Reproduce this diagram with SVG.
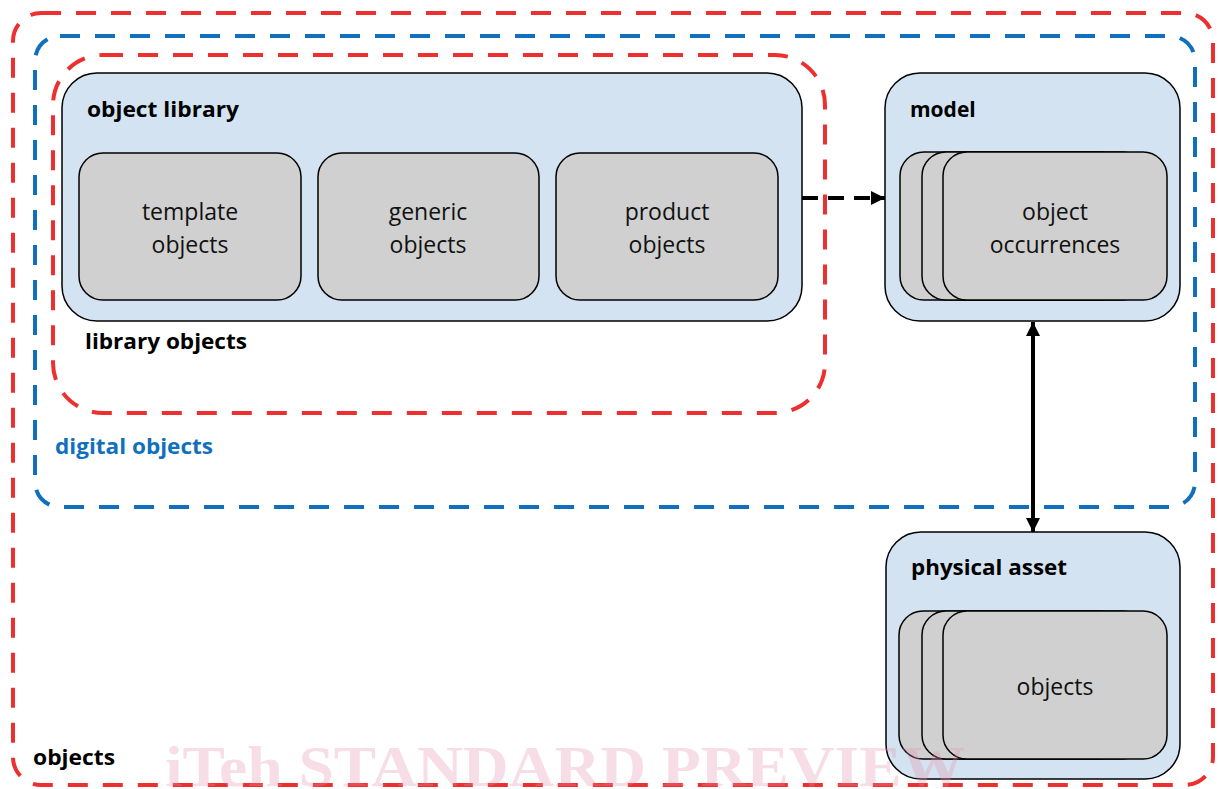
<svg xmlns="http://www.w3.org/2000/svg" width="1219" height="789" viewBox="0 0 1219 789">
<defs>
<marker id="tri2" viewBox="0 0 14 14" refX="14" refY="7" markerWidth="14" markerHeight="14" markerUnits="userSpaceOnUse" orient="auto-start-reverse"><path d="M0,0 L14,7 L0,14 z" fill="#000"/></marker>
</defs>
<style>
.red{fill:none;stroke:#ee2f2f;stroke-width:4;stroke-dasharray:20 15}
.blue{fill:none;stroke:#1170bd;stroke-width:4;stroke-dasharray:20 15}
.cont{fill:#d3e3f1;stroke:#000;stroke-width:1.5}
.item{fill:#d0d0d0;stroke:#000;stroke-width:1.5}
.t{font-family:"Open Sans","Liberation Sans",sans-serif;font-size:23px;fill:#111}
.b{font-family:"Open Sans","Liberation Sans",sans-serif;font-size:21px;font-weight:bold;fill:#000}
.c{text-anchor:middle}
.wm{font-family:"Liberation Serif",serif;font-size:58px;font-weight:bold;fill:#e690a8;fill-opacity:0.3}
</style>
<g id="objects-boundary">
<rect class="red" x="13" y="13" width="1200" height="772" rx="28"/>
<text class="b" x="33" y="765" textLength="82" lengthAdjust="spacingAndGlyphs">objects</text>
</g>
<g id="digital-objects">
<rect class="blue" x="35" y="36" width="1160" height="471" rx="25"/>
<text class="b" x="55" y="454" style="fill:#1170bd" textLength="158" lengthAdjust="spacingAndGlyphs">digital objects</text>
</g>
<g id="library-objects">
<rect class="red" x="53" y="55" width="772" height="358" rx="50"/>
<text class="b" x="85" y="349" textLength="162" lengthAdjust="spacingAndGlyphs">library objects</text>
</g>
<g id="object-library">
<rect class="cont" x="62" y="73" width="740" height="248" rx="35"/>
<text class="b" x="87" y="117" textLength="152" lengthAdjust="spacingAndGlyphs">object library</text>
</g>
<g id="template-objects">
<rect class="item" x="79" y="153" width="222" height="147" rx="24"/>
<text class="t c" x="190" y="220">template</text>
<text class="t c" x="190" y="253">objects</text>
</g>
<g id="generic-objects">
<rect class="item" x="318" y="153" width="221" height="147" rx="24"/>
<text class="t c" x="428" y="220">generic</text>
<text class="t c" x="428" y="253">objects</text>
</g>
<g id="product-objects">
<rect class="item" x="556" y="153" width="222" height="147" rx="24"/>
<text class="t c" x="667" y="220">product</text>
<text class="t c" x="667" y="253">objects</text>
</g>
<g id="model">
<rect class="cont" x="885" y="73" width="295" height="248" rx="35"/>
<text class="b" x="910" y="117">model</text>
<rect class="item" x="900" y="152" width="224" height="148" rx="24"/>
<rect class="item" x="922" y="152" width="224" height="148" rx="24"/>
<rect class="item" x="943" y="152" width="224" height="148" rx="24"/>
<text class="t c" x="1055" y="220">object</text>
<text class="t c" x="1055" y="253">occurrences</text>
</g>
<g id="physical-asset">
<rect class="cont" x="886" y="532" width="294" height="247" rx="35"/>
<text class="b" x="911" y="575" textLength="156" lengthAdjust="spacingAndGlyphs">physical asset</text>
<rect class="item" x="899" y="611" width="224" height="148" rx="24"/>
<rect class="item" x="922" y="611" width="224" height="148" rx="24"/>
<rect class="item" x="943" y="611" width="224" height="148" rx="24"/>
<text class="t c" x="1055" y="695">objects</text>
</g>
<g id="connectors">
<line x1="802" y1="198" x2="885" y2="198" stroke="#000" stroke-width="4" stroke-dasharray="16 10" marker-end="url(#tri2)"/>
<line x1="1033" y1="322" x2="1033" y2="532" stroke="#000" stroke-width="4" marker-start="url(#tri2)" marker-end="url(#tri2)"/>
</g>
<text class="wm" x="165" y="786" textLength="800" lengthAdjust="spacingAndGlyphs">iTeh STANDARD PREVIEW</text>
</svg>
